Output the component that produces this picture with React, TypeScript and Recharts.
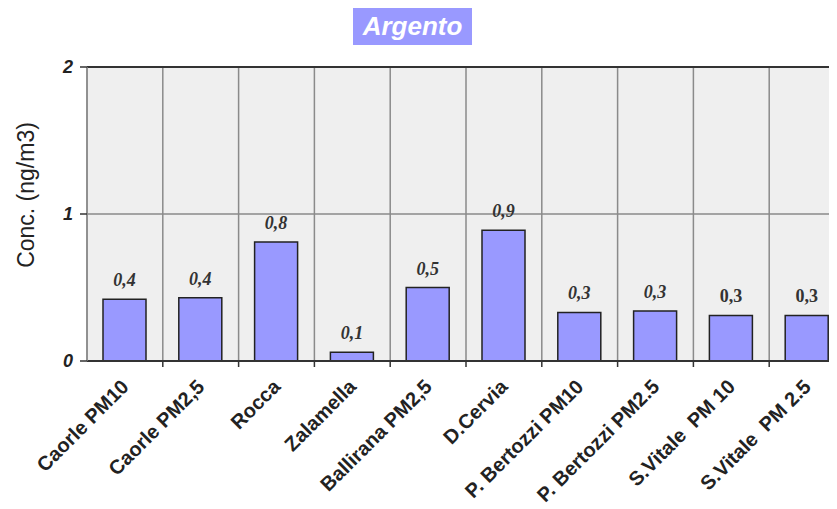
import { BarChart, Bar, XAxis, YAxis, CartesianGrid, LabelList, ReferenceLine } from 'recharts';

const sites = [
  'Caorle PM10',
  'Caorle PM2,5',
  'Rocca',
  'Zalamella',
  'Ballirana PM2,5',
  'D.Cervia',
  'P. Bertozzi PM10',
  'P. Bertozzi PM2.5',
  'S.Vitale  PM 10',
  'S.Vitale  PM 2.5',
];
const conc = [0.42, 0.43, 0.81, 0.06, 0.5, 0.89, 0.33, 0.34, 0.31, 0.31];
const yTicks = [0, 1, 2];

const data = sites.map((name, i) => ({ name, conc: conc[i] }));

const CHART_W = 837;
const CHART_H = 501;
const MARGIN = { top: 59, right: 0, bottom: 0, left: 0 };
const Y_W = 79;
const X_H = 148;

const catWidth = (CHART_W - Y_W - MARGIN.right) / sites.length;

const XTick = (props: any) => {
  const { x, y, payload } = props;
  return (
    <g>
      <line x1={x + catWidth / 2} y1={y - 8} x2={x + catWidth / 2} y2={y - 2} stroke="#333" strokeWidth={1.5} />
      <text
        x={x + 5}
        y={y + 19}
        transform={`rotate(-45, ${x + 5}, ${y + 19})`}
        textAnchor="end"
        fontFamily="Liberation Sans, Arial, sans-serif"
        fontWeight="bold"
        fontSize={20}
        fill="#222"
        style={{ whiteSpace: 'pre' }}
      >
        {payload.value}
      </text>
    </g>
  );
};

const YTick = (props: any) => {
  const { x, y, payload } = props;
  return (
    <text
      x={x - 5}
      y={y + 6}
      textAnchor="end"
      fontFamily="Liberation Sans, Arial, sans-serif"
      fontWeight="bold"
      fontStyle="italic"
      fontSize={18}
      fill="#222"
    >
      {payload.value}
    </text>
  );
};

const ValueLabel = (props: any) => {
  const { x, y, width, value, index } = props;
  return (
    <text
      x={x + width / 2}
      y={y - 13}
      textAnchor="middle"
      fontFamily="Liberation Serif, Times New Roman, serif"
      fontWeight="bold"
      fontStyle={index >= 8 ? 'normal' : 'italic'}
      fontSize={18}
      fill="#333"
    >
      {value.toFixed(1).replace('.', ',')}
    </text>
  );
};

export default function App() {
  return (
    <div style={{ position: 'relative', width: 829, height: 501, overflow: 'hidden', background: '#fff' }}>
      <div
        style={{
          position: 'absolute',
          left: 345,
          top: -1,
          width: 119,
          height: 38,
          background: '#9999ff',
          color: '#fff',
          fontFamily: 'Liberation Sans, Arial, sans-serif',
          fontWeight: 'bold',
          fontStyle: 'italic',
          fontSize: 26,
          lineHeight: '38px',
          textAlign: 'center',
        }}
      >
        Argento
      </div>
      <div
        style={{
          position: 'absolute',
          left: 18,
          top: 187,
          transform: 'translate(-50%, -50%) rotate(-90deg)',
          fontFamily: 'Liberation Sans, Arial, sans-serif',
          fontSize: 23,
          color: '#222',
          whiteSpace: 'nowrap',
        }}
      >
        Conc. (ng/m3)
      </div>
      <BarChart width={CHART_W} height={CHART_H} data={data} margin={MARGIN} barSize={43}>
        <CartesianGrid
          fill="#efefef"
          stroke="#8a8a8a"
          strokeWidth={1.5}
          verticalCoordinatesGenerator={({ offset }: any) =>
            sites.map((_, i) => offset.left + (i * offset.width) / sites.length)
          }
        />
        <XAxis
          dataKey="name"
          interval={0}
          height={X_H}
          tickLine={false}
          axisLine={{ stroke: '#333', strokeWidth: 2 }}
          tick={<XTick />}
        />
        <YAxis
          domain={[0, 2]}
          ticks={yTicks}
          width={Y_W}
          tickSize={7}
          tickLine={{ stroke: '#333', strokeWidth: 1.5 }}
          axisLine={{ stroke: '#8a8a8a', strokeWidth: 1.5 }}
          tick={<YTick />}
        />
        <ReferenceLine y={2} stroke="#333" strokeWidth={2} />
        <Bar dataKey="conc" fill="#9999ff" stroke="#222" strokeWidth={1.5} isAnimationActive={false}>
          <LabelList dataKey="conc" content={<ValueLabel />} />
        </Bar>
      </BarChart>
    </div>
  );
}
